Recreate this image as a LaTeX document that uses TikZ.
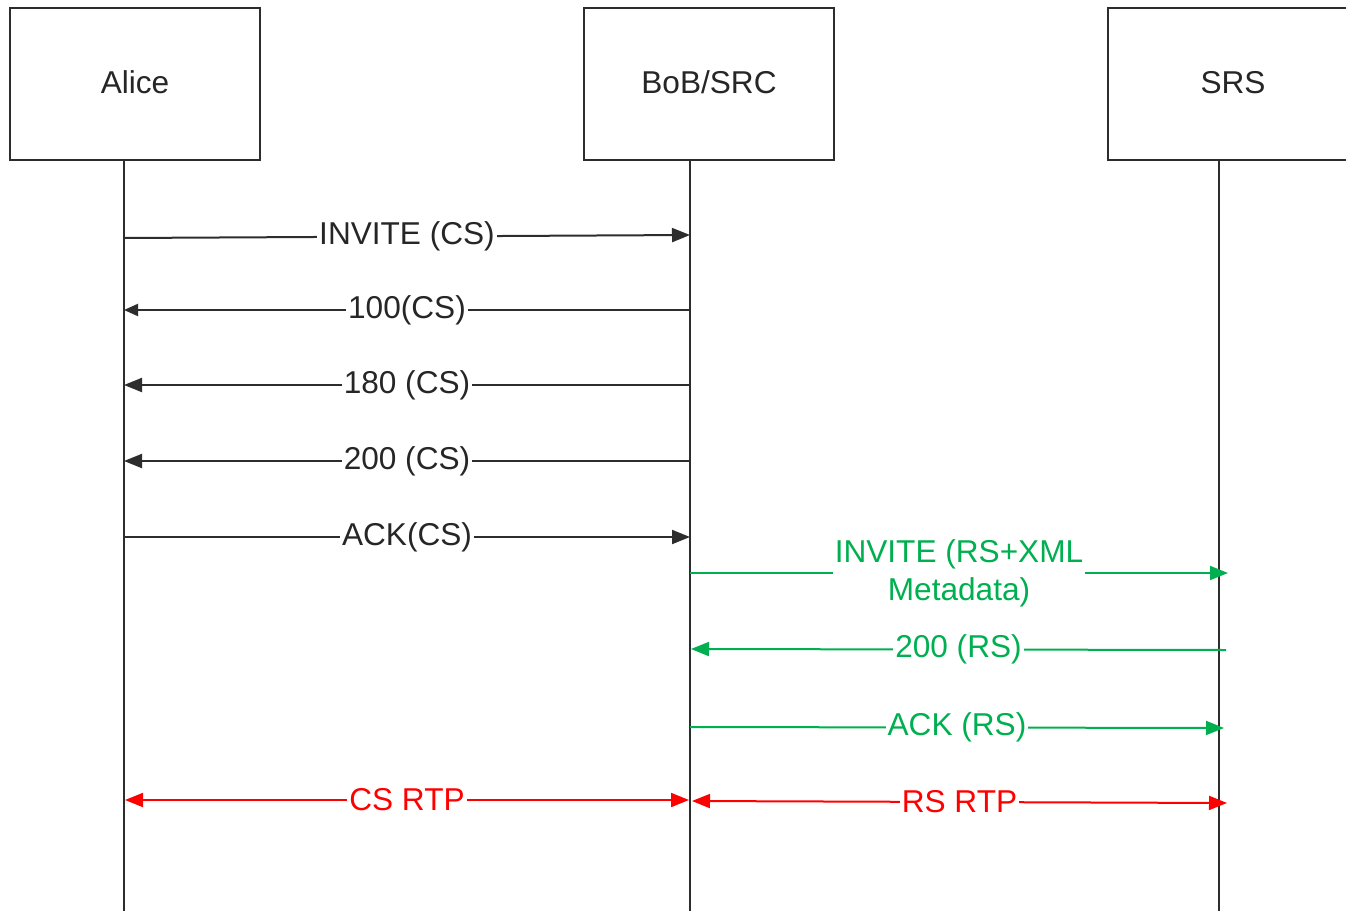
\documentclass[tikz,border=0pt]{standalone}
\usepackage{fontspec}
\setmainfont{Liberation Sans}
\usetikzlibrary{arrows.meta}
\definecolor{lineg}{RGB}{45,45,45}
\definecolor{msggreen}{RGB}{0,176,80}
\definecolor{msgred}{RGB}{255,0,0}
\tikzset{
  actor/.style={draw=lineg, line width=1pt, fill=white, minimum width=125pt, minimum height=76pt, inner sep=0pt, font=\fontsize{15.8}{19}\selectfont, text=black!85},
  lifeline/.style={draw=lineg, line width=1pt},
  msg/.style={line width=1pt, -{Triangle[length=9pt,width=7pt]}},
  msgs/.style={line width=1pt, -{Triangle[length=7pt,width=6pt]}},
  both/.style={line width=1pt, {Triangle[length=9pt,width=7pt]}-{Triangle[length=9pt,width=7pt]}},
  lbl/.style={fill=white, inner sep=1pt, font=\fontsize{15.8}{19}\selectfont, align=center}
}
\begin{document}
\begin{tikzpicture}[x=0.5pt,y=-0.5pt]
\clip (0,0) rectangle (1346,911);
\fill[white] (0,0) rectangle (1346,911);
% actors
\node[actor] (alice) at (135,84) {\raisebox{1.5pt}{Alice}};
\node[actor] (bob) at (709,84) {\raisebox{1.5pt}{BoB/SRC}};
\node[actor] (srs) at (1233,84) {\raisebox{1.5pt}{SRS}};
% lifelines
\coordinate (aT) at (124,160); \coordinate (aB) at (124,915);
\coordinate (bT) at (690,160); \coordinate (bB) at (690,915);
\coordinate (sT) at (1219,160); \coordinate (sB) at (1219,915);
\draw[lifeline] (aT) -- (aB);
\draw[lifeline] (bT) -- (bB);
\draw[lifeline] (sT) -- (sB);
% message end points
\coordinate (m1s) at (124,238); \coordinate (m1e) at (690,235);
\coordinate (m2s) at (690,310); \coordinate (m2e) at (124,310);
\coordinate (m3s) at (690,385); \coordinate (m3e) at (124,385);
\coordinate (m4s) at (690,461); \coordinate (m4e) at (124,461);
\coordinate (m5s) at (124,537); \coordinate (m5e) at (690,537);
\coordinate (m6s) at (690,573); \coordinate (m6e) at (1228,573);
\coordinate (m7s) at (1226,650); \coordinate (m7e) at (691,649);
\coordinate (m8s) at (690,727); \coordinate (m8e) at (1224,728);
\coordinate (m9s) at (125,800); \coordinate (m9e) at (689,800);
\coordinate (m10s) at (692,801); \coordinate (m10e) at (1227,803);
% black messages
\draw[msg, lineg] (m1s) -- node[lbl, text=black!85] {INVITE (CS)} (m1e);
\draw[msgs, lineg] (m2s) -- node[lbl, text=black!85] {100(CS)} (m2e);
\draw[msg, lineg] (m3s) -- node[lbl, text=black!85] {180 (CS)} (m3e);
\draw[msg, lineg] (m4s) -- node[lbl, text=black!85] {200 (CS)} (m4e);
\draw[msg, lineg] (m5s) -- node[lbl, text=black!85] {ACK(CS)} (m5e);
% green messages
\draw[msg, msggreen] (m6s) -- node[lbl, text=msggreen] {INVITE (RS+XML\\Metadata)} (m6e);
\draw[msg, msggreen] (m7s) -- node[lbl, text=msggreen] {200 (RS)} (m7e);
\draw[msg, msggreen] (m8s) -- node[lbl, text=msggreen] {ACK (RS)} (m8e);
% red messages
\draw[both, msgred] (m9s) -- node[lbl, text=msgred] {CS RTP} (m9e);
\draw[both, msgred] (m10s) -- node[lbl, text=msgred] {RS RTP} (m10e);
\end{tikzpicture}
\end{document}
